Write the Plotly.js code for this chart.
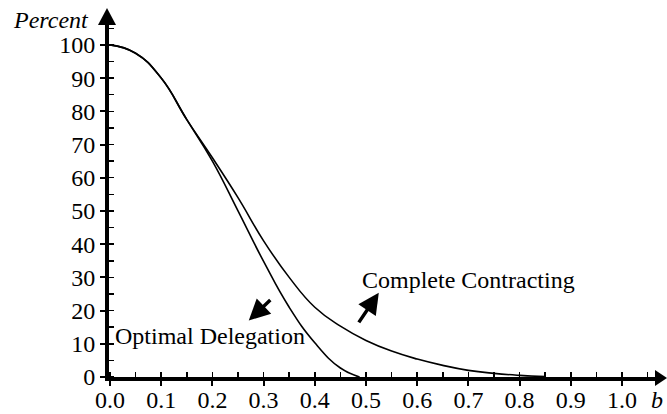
<!DOCTYPE html>
<html>
<head>
<meta charset="utf-8">
<script src="https://cdn.plot.ly/plotly-3.0.1.min.js"></script>
<style>html,body{margin:0;padding:0;background:#fff;}#chart{width:667px;height:414px;}</style>
</head>
<body>
<div id="chart"></div>
<script>
// Data
const bCC = [0, 0.05, 0.10, 0.15, 0.20, 0.25, 0.30, 0.35, 0.40, 0.45, 0.50, 0.55, 0.60, 0.65, 0.70, 0.75, 0.80, 0.85];
const completeContracting = [100, 97.5, 90, 77.5, 66, 54, 41, 30, 21, 15.3, 11, 7.8, 5.4, 3.5, 2.0, 1.1, 0.5, 0.1];
const bOD = [0, 0.05, 0.10, 0.15, 0.20, 0.25, 0.30, 0.35, 0.40, 0.45, 0.4875];
const optimalDelegation = [100, 97.5, 90, 77.5, 65, 50, 34.8, 21, 10.3, 2.7, 0];
const xTicks = [0, 0.1, 0.2, 0.3, 0.4, 0.5, 0.6, 0.7, 0.8, 0.9, 1.0];
const xTickText = ["0.0", "0.1", "0.2", "0.3", "0.4", "0.5", "0.6", "0.7", "0.8", "0.9", "1.0"];
const yTicks = [0, 10, 20, 30, 40, 50, 60, 70, 80, 90, 100];
const yTickText = ["0", "10", "20", "30", "40", "50", "60", "70", "80", "90", "100"];
const labelCC = "Complete Contracting";
const labelOD = "Optimal Delegation";
const yTitle = "Percent";
const xTitle = "b";

const FONT = "Liberation Serif";
const xRange = [-1/512, 1.0742];
const yRange = [0, 109.3];

const lineStyle = {color: "#000", width: 1.6, shape: "spline", smoothing: 1.3};
const traces = [
  {x: bCC, y: completeContracting, type: "scatter", mode: "lines", line: lineStyle, hoverinfo: "skip", showlegend: false},
  {x: bOD, y: optimalDelegation, type: "scatter", mode: "lines", line: lineStyle, hoverinfo: "skip", showlegend: false}
];

const tickFont = {family: FONT, size: 24, color: "#000"};
const layout = {
  width: 667, height: 414,
  margin: {l: 109, r: 7, t: 14, b: 37, pad: 0},
  paper_bgcolor: "#fff", plot_bgcolor: "#fff",
  font: {family: FONT, color: "#000"},
  showlegend: false,
  xaxis: {
    range: xRange, showgrid: false, zeroline: false,
    showline: true, linecolor: "#000", linewidth: 4,
    tickmode: "array", tickvals: xTicks, ticktext: xTickText,
    ticks: "outside", ticklen: 5, tickwidth: 2, tickcolor: "#000",
    tickfont: tickFont, ticklabelstandoff: -7,
    minor: {ticks: "inside", ticklen: 5, tickwidth: 1.5, tickcolor: "#000", dtick: 0.05, tick0: 0, showgrid: false}
  },
  yaxis: {
    range: yRange, showgrid: false, zeroline: false,
    showline: true, linecolor: "#000", linewidth: 4,
    tickmode: "array", tickvals: yTicks, ticktext: yTickText,
    ticks: "outside", ticklen: 5, tickwidth: 2, tickcolor: "#000",
    tickfont: tickFont,
    minor: {ticks: "inside", ticklen: 5, tickwidth: 1.5, tickcolor: "#000", dtick: 5, tick0: 0, showgrid: false}
  },
  xaxis2: {
    overlaying: "x", anchor: "y", side: "bottom", range: xRange,
    showgrid: false, zeroline: false, showline: false, showticklabels: false,
    tickmode: "array", tickvals: xTicks, ticks: "inside", ticklen: 5, tickwidth: 2, tickcolor: "#000"
  },
  yaxis2: {
    overlaying: "y", anchor: "x", side: "left", range: yRange,
    showgrid: false, zeroline: false, showline: false, showticklabels: false,
    tickmode: "array", tickvals: yTicks, ticks: "inside", ticklen: 5, tickwidth: 2, tickcolor: "#000"
  },
  shapes: [
    {type: "path", layer: "above", xref: "paper", yref: "paper", xsizemode: "pixel", ysizemode: "pixel",
     xanchor: 1, yanchor: 0, path: "M 7 -1 L -5 7 L -5 -9 Z", fillcolor: "#000", line: {width: 0}},
    {type: "path", layer: "above", xref: "paper", yref: "paper", xsizemode: "pixel", ysizemode: "pixel",
     xanchor: 0, yanchor: 1, path: "M -2 6 L -11 -11 L 7 -11 Z", fillcolor: "#000", line: {width: 0}}
  ],
  annotations: [
    {xref: "paper", yref: "paper", x: (51-109)/551, y: (377-20)/363, text: "<i>" + yTitle + "</i>", showarrow: false,
     xanchor: "center", yanchor: "middle", font: {family: FONT, size: 24, color: "#000"}},
    {xref: "paper", yref: "paper", x: (657-109)/551, y: (377-400)/363, text: "<i>" + xTitle + "</i>", showarrow: false,
     xanchor: "center", yanchor: "middle", font: {family: FONT, size: 24, color: "#000"}},
    {xref: "x", yref: "y", x: 0.701, y: 29.2, text: labelCC, showarrow: false,
     xanchor: "center", yanchor: "middle", font: {family: FONT, size: 24, color: "#000"}},
    {xref: "x", yref: "y", x: 0.195, y: 12.4, text: labelOD, showarrow: false,
     xanchor: "center", yanchor: "middle", font: {family: FONT, size: 24, color: "#000"}},
    {xref: "x", yref: "y", axref: "x", ayref: "y", x: 0.271, y: 17.0, ax: 0.316, ay: 23.6, text: "",
     showarrow: true, arrowhead: 2, arrowsize: 1.2, arrowwidth: 3.5, arrowcolor: "#000"},
    {xref: "x", yref: "y", axref: "x", ayref: "y", x: 0.525, y: 25.4, ax: 0.484, ay: 16.0, text: "",
     showarrow: true, arrowhead: 2, arrowsize: 1.2, arrowwidth: 3.5, arrowcolor: "#000"}
  ]
};

Plotly.newPlot("chart", traces, layout, {staticPlot: true, displayModeBar: false});
</script>
</body>
</html>
